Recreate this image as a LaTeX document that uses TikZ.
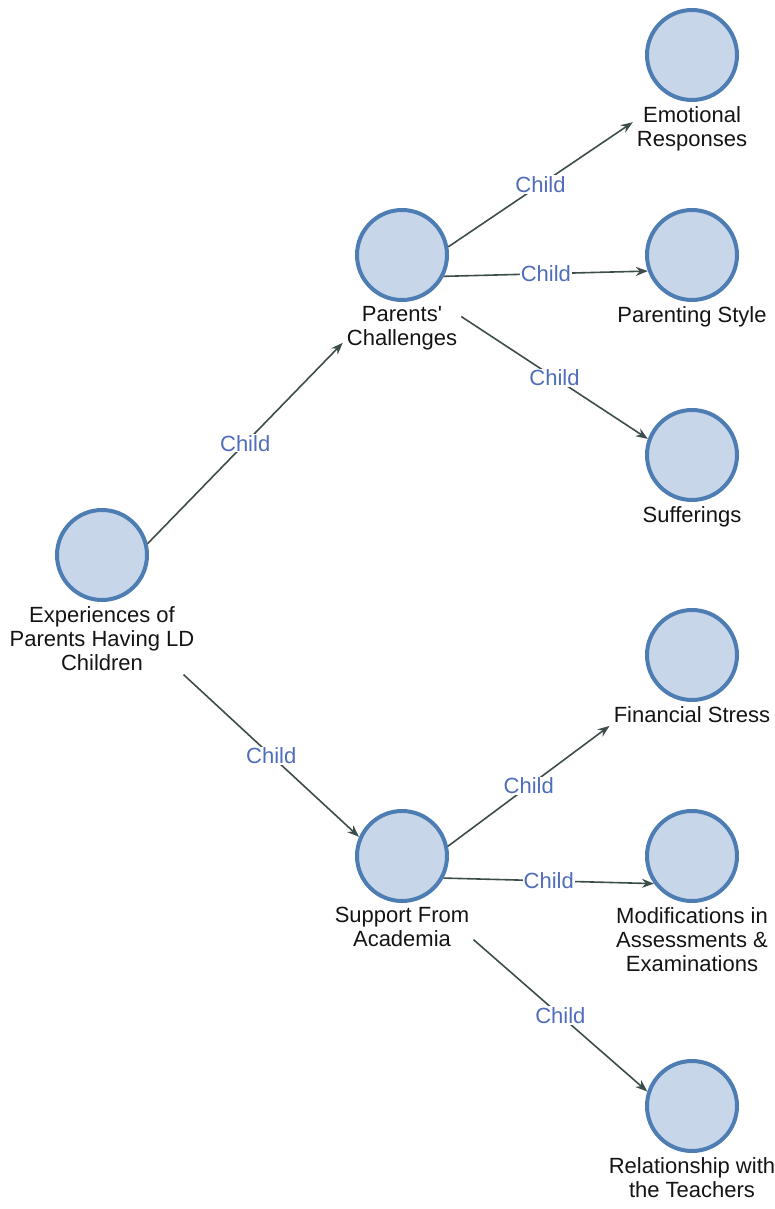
\documentclass[tikz,border=0pt]{standalone}
\usepackage{fontspec}
\setmainfont{Liberation Sans}
\usetikzlibrary{arrows.meta}
\definecolor{ringblue}{HTML}{4D7DB3}
\definecolor{discfill}{HTML}{C8D6EA}
\definecolor{linkgrey}{HTML}{3D4D4B}
\definecolor{childblue}{HTML}{4F6DBA}
\tikzset{>={Stealth[length=12pt,width=9pt]},
	topic/.style={circle, draw=ringblue, fill=discfill, line width=4pt, minimum size=90pt, inner sep=0pt},
	tlabel/.style={align=center, inner sep=4pt, text=black!92, font=\fontsize{22}{24}\selectfont},
	link/.style={->, draw=linkgrey, line width=1.6pt},
	childtag/.style={fill=white, inner sep=1pt, text=childblue, font=\fontsize{22}{24}\selectfont}}

\begin{document}
\begin{tikzpicture}[x=1pt, y=-1pt]
	\useasboundingbox (0,0) rectangle (774,1209);
	\foreach \n/\x/\y/\t in {root/102/555/{Experiences of\\Parents Having LD\\Children},
		pc/402/255/{Parents\textquotesingle\\Challenges}, sa/402/856/{Support From\\Academia},
		er/692/55/{Emotional\\Responses}, ps/692/255/{Parenting Style}, su/692/455/{Sufferings},
		fs/692/655/{Financial Stress}, md/692/856/{Modifications in\\Assessments \&\\Examinations},
		rl/692/1106/{Relationship with\\the Teachers}}
	{
	\node (\n) at (\x,\y) [topic] {};
	\node (l\n) at (\n.south) [below, tlabel] {\t};
	}
	\foreach \a/\b in {root.14/lpc.194, lroot.336/sa.156, pc.10/ler.174, pc.333/ps.200,
		lpc.11/su.160, sa.12/lfs.188, sa.332/md.216, lsa.350/rl.162}
	\draw [link] (\a) -- node [childtag] {Child} (\b);
\end{tikzpicture}
\end{document}
